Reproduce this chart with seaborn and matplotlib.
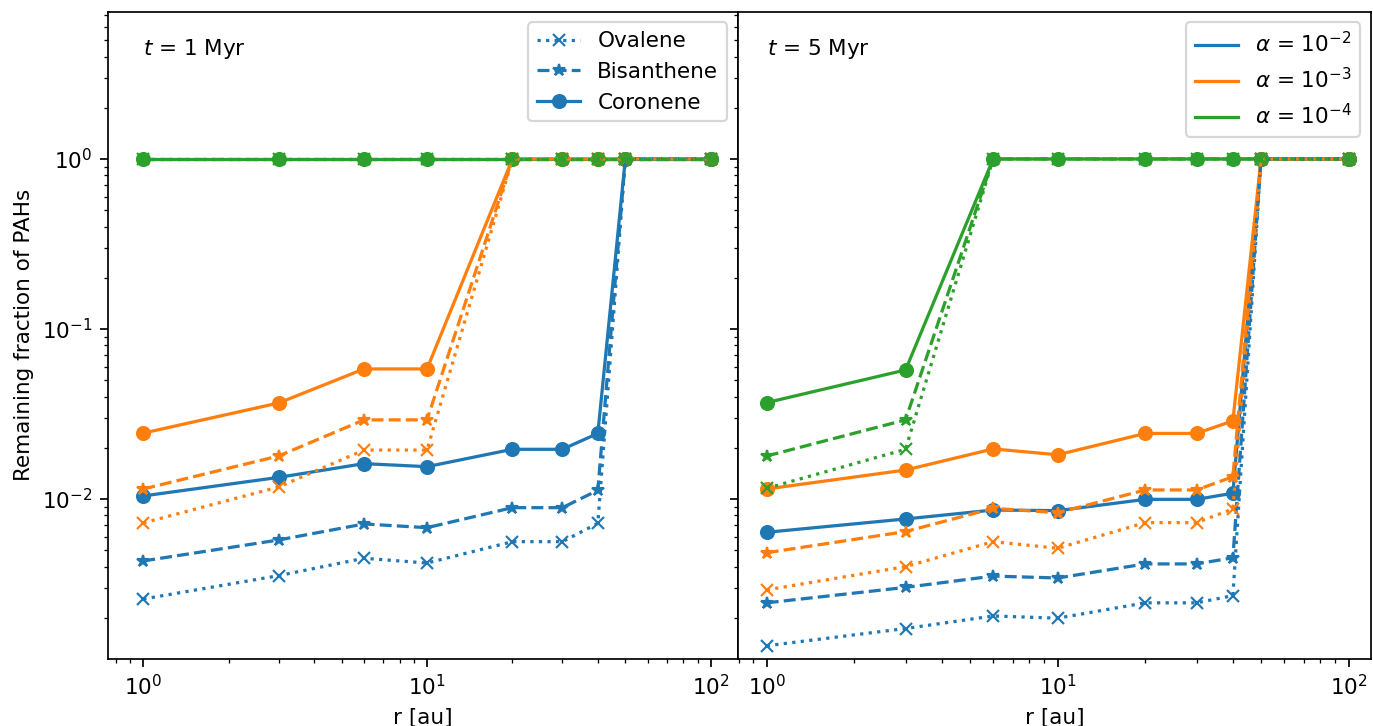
import numpy as np
import pandas as pd
import seaborn as sns
import matplotlib.pyplot as plt
from matplotlib.lines import Line2D

r = [1, 3, 6, 10, 20, 30, 40, 50, 100]
species = ["Ovalene", "Bisanthene", "Coronene"]
alphas = ["1e-2", "1e-3", "1e-4"]
alpha_labels = [r"$\alpha$ = $10^{-2}$", r"$\alpha$ = $10^{-3}$", r"$\alpha$ = $10^{-4}$"]

# t = 1 Myr
ov_1_a2 = [0.00258, 0.00354, 0.00448, 0.00420, 0.00561, 0.00561, 0.00719, 1, 1]
bi_1_a2 = [0.00432, 0.00574, 0.00713, 0.00678, 0.00889, 0.00889, 0.01125, 1, 1]
co_1_a2 = [0.01042, 0.0134, 0.01614, 0.01549, 0.0196, 0.0196, 0.0243, 1, 1]
ov_1_a3 = [0.00723, 0.01177, 0.0194, 0.0194, 1, 1, 1, 1, 1]
bi_1_a3 = [0.01145, 0.0179, 0.0292, 0.0292, 1, 1, 1, 1, 1]
co_1_a3 = [0.0244, 0.0367, 0.0582, 0.0582, 1, 1, 1, 1, 1]
ov_1_a4 = [1, 1, 1, 1, 1, 1, 1, 1, 1]
bi_1_a4 = [1, 1, 1, 1, 1, 1, 1, 1, 1]
co_1_a4 = [1, 1, 1, 1, 1, 1, 1, 1, 1]

# t = 5 Myr
ov_5_a2 = [0.00137, 0.00173, 0.00205, 0.00199, 0.00245, 0.00245, 0.00270, 1, 1]
bi_5_a2 = [0.00245, 0.00302, 0.00352, 0.00343, 0.00415, 0.00415, 0.00451, 1, 1]
co_5_a2 = [0.00637, 0.00763, 0.00861, 0.00854, 0.00995, 0.00995, 0.01081, 1, 1]
ov_5_a3 = [0.00292, 0.00400, 0.00561, 0.00513, 0.00726, 0.00726, 0.00873, 1, 1]
bi_5_a3 = [0.00483, 0.00643, 0.00881, 0.00830, 0.01130, 0.01130, 0.01352, 1, 1]
co_5_a3 = [0.01145, 0.0148, 0.0197, 0.0182, 0.0243, 0.0243, 0.0288, 1, 1]
ov_5_a4 = [0.01156, 0.0196, 1, 1, 1, 1, 1, 1, 1]
bi_5_a4 = [0.0179, 0.0292, 1, 1, 1, 1, 1, 1, 1]
co_5_a4 = [0.0369, 0.0574, 1, 1, 1, 1, 1, 1, 1]

panels = {
    "1 Myr": {"1e-2": [ov_1_a2, bi_1_a2, co_1_a2],
              "1e-3": [ov_1_a3, bi_1_a3, co_1_a3],
              "1e-4": [ov_1_a4, bi_1_a4, co_1_a4]},
    "5 Myr": {"1e-2": [ov_5_a2, bi_5_a2, co_5_a2],
              "1e-3": [ov_5_a3, bi_5_a3, co_5_a3],
              "1e-4": [ov_5_a4, bi_5_a4, co_5_a4]},
}

colors = sns.color_palette("tab10")[:3]
styles = [(":", "x"), ("--", "*"), ("-", "o")]

dpi = 155
fig = plt.figure(figsize=(1373 / dpi, 726 / dpi), dpi=dpi)
ax1 = fig.add_axes([0.0784, 0.0923, 0.4589, 0.8916])
ax2 = fig.add_axes([0.5373, 0.0923, 0.4613, 0.8916], sharey=ax1)

for ax, t in zip([ax1, ax2], panels):
    # coronene first, ovalene last, so the dotted lines sit on top
    for i in [2, 1, 0]:
        ls, mk = styles[i]
        for a, c in zip(alphas, colors):
            df = pd.DataFrame({"r": r, "f": panels[t][a][i]})
            sns.lineplot(data=df, x="r", y="f", ax=ax, color=c, linestyle=ls,
                         marker=mk, markeredgecolor=c, markeredgewidth=1.0,
                         markersize=6, legend=False)
    ax.set_xscale("log")
    ax.set_yscale("log")
    ax.set_xlabel("r [au]")
    ax.text(1, 4.1, r"$t$ = " + t, ha="left", va="baseline")

ax1.set_ylabel("Remaining fraction of PAHs")
ax2.set_ylabel("")
plt.setp(ax2.get_yticklabels(), visible=False)
ax1.set_ylim(0.001145, 7.35)
ax1.set_xlim(10 ** -0.1255, 10 ** 2.095)
ax2.set_xlim(10 ** -0.0997, 10 ** 2.077)

sp_handles = [Line2D([], [], color=colors[0], linestyle=ls, marker=mk)
              for ls, mk in styles]
ax1.legend(sp_handles, species, loc="upper right")
al_handles = [Line2D([], [], color=c) for c in colors]
ax2.legend(al_handles, alpha_labels, loc="upper right")

fig.savefig("out.png", dpi=dpi)
